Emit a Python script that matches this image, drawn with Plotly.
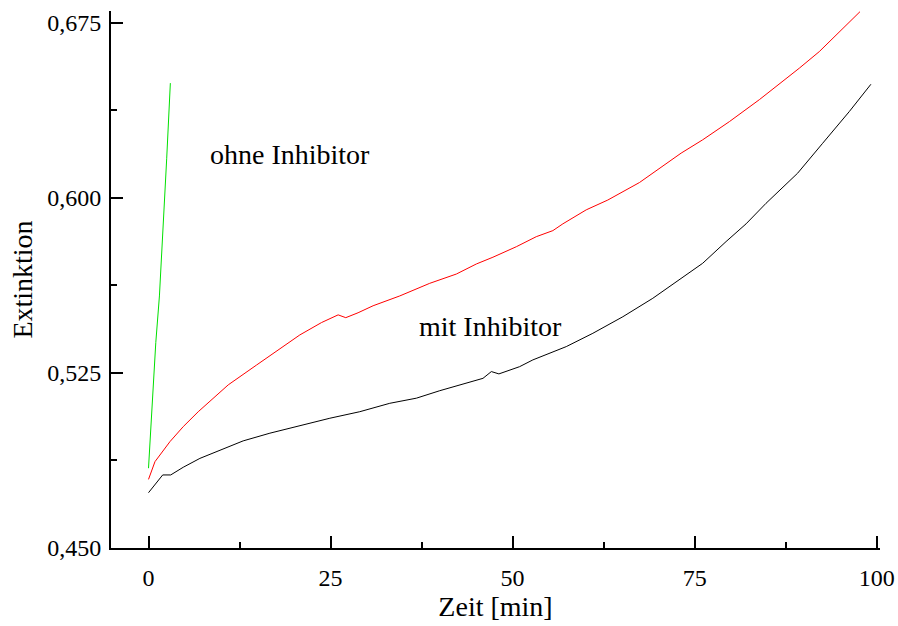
import plotly.graph_objects as go

# Extinktion über die Zeit, ohne und mit Inhibitor
zeit_ohne = [0, 0.5, 1.0, 1.5, 2.0, 2.5, 3.0]
ext_ohne = [0.4842, 0.512, 0.538, 0.558, 0.586, 0.617, 0.6492]

zeit_rot = [0, 0.89, 2.95, 4.77, 6.83, 8.67, 10.95, 14.84, 18.04, 20.78, 23.76,
            26.04, 27.09, 28.78, 30.84, 34.5, 38.61, 42.28, 45.02, 47.3, 50.51,
            53.25, 55.53, 56.9, 60.11, 63.07, 67.42, 70.16, 73.14, 76.1, 79.77,
            83.88, 87.08, 89.37, 92.11, 94.86, 97.7]
ext_rot = [0.4794, 0.487, 0.4956, 0.502, 0.5084, 0.5134, 0.5199, 0.5284, 0.5352,
           0.5413, 0.5466, 0.5499, 0.5487, 0.5508, 0.5538, 0.558, 0.5634, 0.5674,
           0.5717, 0.5746, 0.5791, 0.5834, 0.586, 0.5889, 0.5949, 0.5991, 0.6066,
           0.6127, 0.6192, 0.6249, 0.6327, 0.6421, 0.6498, 0.6556, 0.6627, 0.6713,
           0.6798]

zeit_mit = [0, 1.95, 3.05, 4.77, 7.06, 9.81, 13.0, 16.67, 20.33, 24.9, 29.01,
            33.13, 36.79, 40.0, 45.93, 47.08, 48.12, 50.96, 52.78, 57.37, 61.02,
            65.14, 69.25, 73.83, 76.1, 79.31, 82.06, 84.8, 89.14, 92.57, 96.23,
            99.2]
ext_mit = [0.4737, 0.4813, 0.4813, 0.4846, 0.4884, 0.492, 0.4959, 0.4992, 0.502,
           0.5056, 0.5084, 0.512, 0.5142, 0.5174, 0.5227, 0.5256, 0.5246, 0.5277,
           0.5306, 0.5363, 0.542, 0.5491, 0.557, 0.567, 0.572, 0.5813, 0.5889,
           0.5977, 0.6106, 0.6234, 0.637, 0.6487]

x_ticks = [0, 25, 50, 75, 100]
y_ticks = [0.450, 0.525, 0.600, 0.675]

FONT = "Times New Roman, Liberation Serif, serif"

fig = go.Figure()
fig.add_trace(go.Scatter(x=zeit_ohne, y=ext_ohne, mode="lines",
                         line=dict(color="#00e000", width=1), showlegend=False))
fig.add_trace(go.Scatter(x=zeit_rot, y=ext_rot, mode="lines",
                         line=dict(color="#ff0000", width=1), showlegend=False))
fig.add_trace(go.Scatter(x=zeit_mit, y=ext_mit, mode="lines",
                         line=dict(color="#000000", width=1), showlegend=False))

fig.add_annotation(x=19.4, y=0.6185, text="ohne Inhibitor", showarrow=False,
                   font=dict(family=FONT, size=28, color="black"))
fig.add_annotation(x=47.0, y=0.5449, text="mit Inhibitor", showarrow=False,
                   font=dict(family=FONT, size=28, color="black"))

axis_common = dict(
    showgrid=False, zeroline=False, showline=True, linecolor="black", linewidth=2,
    ticks="inside", ticklen=12, tickwidth=2, tickcolor="black", automargin=False,
    tickfont=dict(family=FONT, size=24, color="black"),
)

fig.update_xaxes(
    range=[-5.15, 100.45], tickvals=x_ticks, ticktext=[str(v) for v in x_ticks],
    minor=dict(dtick=12.5, tick0=0, ticks="inside", ticklen=6, tickwidth=2, tickcolor="black"),
    title=dict(text="Zeit [min]", font=dict(family=FONT, size=28, color="black"), standoff=3),
    ticklabelstandoff=7,
    **axis_common,
)
fig.update_yaxes(
    range=[0.450, 0.6801], tickvals=y_ticks, tickformat=".3f",
    minor=dict(dtick=0.0375, tick0=0.45, ticks="inside", ticklen=6, tickwidth=2, tickcolor="black"),
    title=dict(text="Extinktion", font=dict(family=FONT, size=28, color="black"), standoff=6),
    ticklabelstandoff=3,
    **axis_common,
)

fig.update_layout(
    width=898, height=626,
    margin=dict(l=111, r=18, t=11, b=78),
    paper_bgcolor="white", plot_bgcolor="white",
    separators=",.",
    font=dict(family=FONT, color="black"),
)

fig.write_html("out.html")
